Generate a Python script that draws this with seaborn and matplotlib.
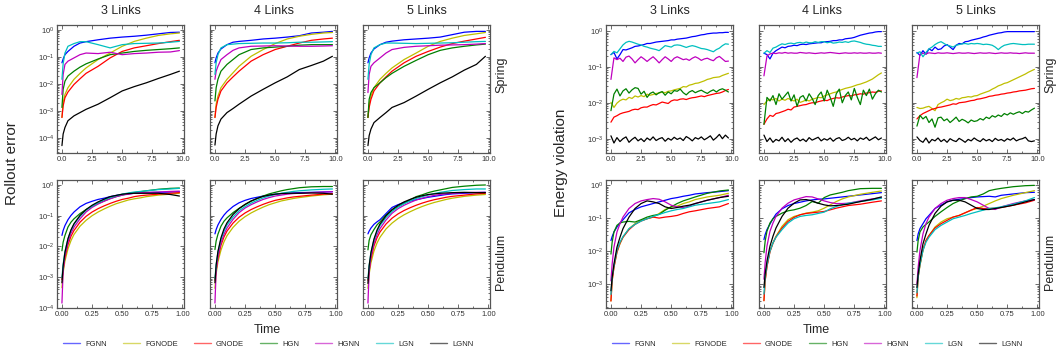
import numpy as np
import pandas as pd
import matplotlib
matplotlib.use("Agg")
import matplotlib.pyplot as plt
import seaborn as sns
from matplotlib.lines import Line2D
from matplotlib.ticker import MultipleLocator, LogLocator, NullFormatter

models = ["FGNN", "FGNODE", "GNODE", "HGN", "HGNN", "LGN", "LGNN"]
colors = ["b", "y", "r", "g", "m", "c", "k"]
links = [3, 4, 5]

# time grids
t_spring = [0, 0.1, 0.25, 0.5, 1, 1.5, 2, 3, 4, 5, 6, 7, 8, 9, 9.75]
t_spring_e = [0, 0.25, 0.5, 0.75, 1, 1.25, 1.5, 1.75, 2, 2.25, 2.5, 2.75, 3, 3.25, 3.5, 3.75,
              4, 4.25, 4.5, 4.75, 5, 5.25, 5.5, 5.75, 6, 6.25, 6.5, 6.75, 7, 7.25, 7.5, 7.75,
              8, 8.25, 8.5, 8.75, 9, 9.25, 9.5, 9.75]
t_pend = [0, 0.01, 0.025, 0.05, 0.075, 0.1, 0.15, 0.2, 0.25, 0.3, 0.35, 0.4, 0.45, 0.5,
          0.55, 0.6, 0.65, 0.7, 0.8, 0.9, 0.975]

# values are log10 of the plotted quantity
# ---- rollout error, spring
rs3 = {
    "FGNN": [-1.22, -1.08, -0.92, -0.80, -0.61, -0.49, -0.44, -0.37, -0.31, -0.27, -0.24, -0.20, -0.15, -0.10, -0.09],
    "FGNODE": [-3.24, -2.69, -2.39, -2.14, -1.83, -1.61, -1.41, -1.10, -0.86, -0.61, -0.43, -0.31, -0.21, -0.15, -0.12],
    "GNODE": [-3.24, -2.81, -2.51, -2.30, -2.02, -1.81, -1.61, -1.35, -1.04, -0.80, -0.67, -0.59, -0.51, -0.44, -0.39],
    "HGN": [-2.87, -2.20, -1.90, -1.71, -1.53, -1.38, -1.26, -1.08, -0.92, -0.86, -0.80, -0.76, -0.73, -0.70, -0.67],
    "HGNN": [-2.39, -1.65, -1.28, -1.16, -1.04, -0.92, -0.86, -0.88, -0.83, -0.92, -0.88, -0.86, -0.83, -0.82, -0.77],
    "LGN": [-1.83, -1.25, -0.86, -0.61, -0.51, -0.44, -0.44, -0.55, -0.67, -0.55, -0.51, -0.50, -0.49, -0.46, -0.43],
    "LGNN": [-4.28, -3.85, -3.61, -3.36, -3.18, -3.06, -2.94, -2.75, -2.51, -2.26, -2.10, -1.96, -1.80, -1.65, -1.53],
}
rs4 = {
    "FGNN": [-1.22, -1.04, -0.86, -0.71, -0.55, -0.46, -0.43, -0.39, -0.34, -0.31, -0.27, -0.22, -0.12, -0.09, -0.06],
    "FGNODE": [-3.24, -2.75, -2.45, -2.14, -1.83, -1.59, -1.35, -0.98, -0.73, -0.51, -0.34, -0.24, -0.17, -0.12, -0.10],
    "GNODE": [-3.24, -2.87, -2.57, -2.26, -1.96, -1.74, -1.53, -1.16, -0.92, -0.73, -0.61, -0.49, -0.39, -0.34, -0.31],
    "HGN": [-2.63, -2.14, -1.83, -1.53, -1.28, -1.10, -0.92, -0.73, -0.67, -0.64, -0.61, -0.57, -0.55, -0.55, -0.55],
    "HGNN": [-1.83, -1.53, -1.35, -1.10, -0.92, -0.76, -0.67, -0.61, -0.60, -0.59, -0.60, -0.61, -0.61, -0.60, -0.59],
    "LGN": [-1.65, -1.22, -0.92, -0.67, -0.55, -0.53, -0.51, -0.50, -0.49, -0.49, -0.48, -0.46, -0.46, -0.45, -0.44],
    "LGNN": [-4.26, -3.85, -3.55, -3.30, -3.06, -2.91, -2.75, -2.45, -2.20, -1.96, -1.74, -1.47, -1.32, -1.16, -0.98],
}
rs5 = {
    "FGNN": [-1.22, -1.04, -0.86, -0.71, -0.55, -0.46, -0.42, -0.37, -0.34, -0.31, -0.27, -0.18, -0.09, -0.06, -0.06],
    "FGNODE": [-3.24, -2.75, -2.45, -2.14, -1.83, -1.61, -1.41, -1.10, -0.86, -0.61, -0.43, -0.31, -0.21, -0.15, -0.10],
    "GNODE": [-3.24, -2.87, -2.57, -2.26, -1.96, -1.74, -1.53, -1.22, -0.98, -0.80, -0.64, -0.51, -0.42, -0.34, -0.28],
    "HGN": [-3.24, -2.57, -2.32, -2.14, -1.96, -1.77, -1.61, -1.35, -1.13, -0.92, -0.76, -0.67, -0.61, -0.56, -0.53],
    "HGNN": [-2.32, -1.65, -1.35, -1.22, -1.04, -0.86, -0.73, -0.65, -0.61, -0.59, -0.57, -0.56, -0.55, -0.53, -0.51],
    "LGN": [-1.83, -1.28, -0.92, -0.67, -0.55, -0.49, -0.49, -0.50, -0.51, -0.50, -0.49, -0.48, -0.46, -0.44, -0.43],
    "LGNN": [-4.28, -3.91, -3.67, -3.43, -3.24, -3.06, -2.87, -2.69, -2.45, -2.20, -1.96, -1.74, -1.49, -1.28, -0.98],
}

# ---- rollout error, pendulum
rp3 = {
    "FGNN": [-1.64, -1.48, -1.32, -1.13, -0.99, -0.88, -0.71, -0.60, -0.53, -0.47, -0.43, -0.38, -0.34, -0.31, -0.29, -0.27, -0.26, -0.25, -0.24, -0.23, -0.22],
    "FGNODE": [-3.34, -2.85, -2.47, -2.08, -1.81, -1.61, -1.34, -1.15, -1.00, -0.88, -0.78, -0.69, -0.61, -0.55, -0.49, -0.45, -0.42, -0.38, -0.33, -0.30, -0.27],
    "GNODE": [-3.07, -2.74, -2.36, -1.94, -1.67, -1.48, -1.21, -1.02, -0.88, -0.77, -0.68, -0.60, -0.53, -0.47, -0.43, -0.38, -0.35, -0.33, -0.30, -0.27, -0.25],
    "HGN": [-2.14, -1.86, -1.64, -1.37, -1.21, -1.10, -0.93, -0.80, -0.69, -0.60, -0.52, -0.44, -0.38, -0.33, -0.28, -0.25, -0.22, -0.19, -0.14, -0.11, -0.10],
    "HGNN": [-3.84, -2.79, -2.30, -1.86, -1.57, -1.37, -1.10, -0.88, -0.73, -0.62, -0.53, -0.45, -0.38, -0.33, -0.30, -0.27, -0.25, -0.24, -0.23, -0.21, -0.20],
    "LGN": [-3.01, -2.58, -2.16, -1.75, -1.48, -1.28, -1.02, -0.82, -0.69, -0.58, -0.48, -0.41, -0.35, -0.30, -0.26, -0.23, -0.21, -0.19, -0.15, -0.13, -0.11],
    "LGNN": [-3.18, -2.63, -2.19, -1.75, -1.46, -1.26, -0.99, -0.80, -0.66, -0.55, -0.46, -0.38, -0.34, -0.30, -0.28, -0.27, -0.27, -0.27, -0.27, -0.31, -0.36],
}
rp4 = {
    "FGNN": [-1.59, -1.45, -1.30, -1.12, -0.98, -0.87, -0.70, -0.58, -0.50, -0.44, -0.40, -0.36, -0.33, -0.30, -0.28, -0.27, -0.26, -0.25, -0.24, -0.23, -0.22],
    "FGNODE": [-3.36, -2.88, -2.50, -2.12, -1.85, -1.65, -1.38, -1.18, -1.03, -0.91, -0.81, -0.72, -0.64, -0.58, -0.52, -0.48, -0.44, -0.41, -0.36, -0.32, -0.30],
    "GNODE": [-3.10, -2.76, -2.38, -1.96, -1.69, -1.50, -1.24, -1.05, -0.91, -0.80, -0.71, -0.63, -0.56, -0.50, -0.46, -0.42, -0.39, -0.37, -0.33, -0.30, -0.28],
    "HGN": [-2.10, -1.82, -1.60, -1.34, -1.18, -1.07, -0.90, -0.76, -0.64, -0.53, -0.44, -0.36, -0.29, -0.24, -0.19, -0.15, -0.12, -0.09, -0.06, -0.05, -0.05],
    "HGNN": [-3.84, -2.80, -2.32, -1.88, -1.60, -1.40, -1.12, -0.90, -0.75, -0.64, -0.55, -0.47, -0.41, -0.36, -0.33, -0.30, -0.28, -0.27, -0.25, -0.23, -0.22],
    "LGN": [-3.05, -2.60, -2.18, -1.77, -1.50, -1.30, -1.04, -0.84, -0.70, -0.59, -0.50, -0.42, -0.36, -0.31, -0.27, -0.24, -0.21, -0.19, -0.16, -0.14, -0.13],
    "LGNN": [-3.18, -2.60, -2.16, -1.72, -1.43, -1.23, -0.96, -0.77, -0.63, -0.52, -0.44, -0.37, -0.33, -0.30, -0.28, -0.27, -0.27, -0.27, -0.26, -0.27, -0.30],
}
rp5 = {
    "FGNN": [-1.59, -1.50, -1.40, -1.28, -1.20, -1.13, -0.93, -0.73, -0.64, -0.57, -0.52, -0.48, -0.44, -0.40, -0.37, -0.34, -0.31, -0.29, -0.27, -0.25, -0.24],
    "FGNODE": [-3.36, -2.90, -2.53, -2.15, -1.89, -1.70, -1.43, -1.24, -1.09, -0.97, -0.87, -0.78, -0.70, -0.63, -0.57, -0.52, -0.47, -0.43, -0.37, -0.33, -0.31],
    "GNODE": [-3.10, -2.78, -2.40, -1.98, -1.72, -1.53, -1.27, -1.08, -0.94, -0.83, -0.74, -0.66, -0.59, -0.53, -0.48, -0.44, -0.40, -0.37, -0.33, -0.29, -0.27],
    "HGN": [-2.11, -1.80, -1.62, -1.45, -1.30, -1.20, -0.98, -0.82, -0.70, -0.60, -0.48, -0.38, -0.32, -0.25, -0.20, -0.16, -0.12, -0.08, -0.04, -0.01, 0.00],
    "HGNN": [-3.84, -2.82, -2.33, -1.90, -1.62, -1.42, -1.14, -0.92, -0.77, -0.66, -0.57, -0.49, -0.43, -0.38, -0.34, -0.31, -0.29, -0.27, -0.25, -0.24, -0.24],
    "LGN": [-3.05, -2.62, -2.20, -1.79, -1.52, -1.32, -1.06, -0.86, -0.72, -0.61, -0.52, -0.44, -0.38, -0.33, -0.28, -0.24, -0.21, -0.18, -0.15, -0.13, -0.13],
    "LGNN": [-3.20, -2.63, -2.20, -1.76, -1.47, -1.27, -1.00, -0.80, -0.66, -0.55, -0.47, -0.40, -0.35, -0.31, -0.29, -0.27, -0.26, -0.25, -0.24, -0.25, -0.25],
}

# ---- energy violation, spring
es3 = {
    "FGNN": [-0.66, -0.60, -0.78, -0.66, -0.52, -0.53, -0.50, -0.47, -0.43, -0.42, -0.40, -0.38, -0.35, -0.35, -0.33, -0.31, -0.30, -0.29, -0.28, -0.27,
             -0.25, -0.25, -0.23, -0.22, -0.21, -0.20, -0.18, -0.16, -0.15, -0.13, -0.11, -0.10, -0.08, -0.07, -0.06, -0.06, -0.05, -0.05, -0.04, -0.04],
    "FGNODE": [-1.99, -2.13, -2.01, -1.94, -1.90, -1.92, -1.85, -1.88, -1.81, -1.84, -1.80, -1.83, -1.76, -1.79, -1.77, -1.74, -1.73, -1.70, -1.72, -1.68,
               -1.67, -1.64, -1.62, -1.60, -1.55, -1.56, -1.51, -1.49, -1.46, -1.45, -1.42, -1.39, -1.35, -1.33, -1.30, -1.29, -1.28, -1.24, -1.21, -1.18],
    "GNODE": [-2.54, -2.40, -2.36, -2.31, -2.28, -2.26, -2.24, -2.20, -2.18, -2.19, -2.14, -2.12, -2.12, -2.08, -2.05, -2.06, -2.02, -1.98, -2.00, -2.02,
              -1.95, -1.92, -1.93, -1.90, -1.89, -1.91, -1.88, -1.86, -1.85, -1.83, -1.81, -1.83, -1.80, -1.78, -1.76, -1.74, -1.73, -1.70, -1.66, -1.63],
    "HGN": [-2.22, -1.76, -1.62, -1.81, -1.67, -1.61, -1.73, -1.64, -1.58, -1.60, -1.76, -1.68, -1.85, -1.74, -1.70, -1.78, -1.72, -1.69, -1.79, -1.70,
            -1.75, -1.66, -1.68, -1.62, -1.72, -1.78, -1.70, -1.66, -1.72, -1.68, -1.65, -1.70, -1.74, -1.68, -1.64, -1.70, -1.64, -1.61, -1.65, -1.70],
    "HGNN": [-1.35, -0.75, -0.80, -0.76, -0.85, -0.73, -0.70, -0.78, -0.89, -0.80, -0.72, -0.78, -0.85, -0.78, -0.72, -0.80, -0.89, -0.80, -0.72, -0.78,
             -0.85, -0.76, -0.72, -0.76, -0.80, -0.78, -0.82, -0.76, -0.72, -0.76, -0.82, -0.78, -0.76, -0.80, -0.83, -0.75, -0.71, -0.78, -0.85, -0.84],
    "LGN": [-0.66, -0.57, -0.61, -0.50, -0.39, -0.32, -0.29, -0.31, -0.34, -0.37, -0.39, -0.43, -0.45, -0.48, -0.50, -0.52, -0.55, -0.48, -0.41, -0.43,
            -0.45, -0.40, -0.39, -0.40, -0.43, -0.46, -0.43, -0.41, -0.43, -0.46, -0.49, -0.50, -0.52, -0.55, -0.58, -0.52, -0.48, -0.41, -0.36, -0.37],
    "LGNN": [-2.92, -3.12, -2.97, -3.08, -3.00, -2.95, -3.10, -3.02, -2.96, -3.06, -3.00, -3.08, -2.98, -3.04, -2.95, -3.05, -3.00, -2.97, -3.07, -2.99,
             -3.04, -2.96, -3.02, -2.98, -3.05, -2.94, -2.99, -3.06, -2.97, -3.01, -2.95, -3.03, -2.98, -2.92, -3.04, -2.97, -2.88, -3.00, -2.90, -2.98],
}
es4 = {
    "FGNN": [-0.62, -0.66, -0.78, -0.62, -0.55, -0.50, -0.45, -0.47, -0.43, -0.42, -0.40, -0.41, -0.38, -0.37, -0.38, -0.36, -0.35, -0.34, -0.33, -0.33,
             -0.30, -0.30, -0.29, -0.27, -0.27, -0.25, -0.25, -0.22, -0.21, -0.20, -0.18, -0.15, -0.12, -0.10, -0.08, -0.06, -0.05, -0.03, -0.02, -0.02],
    "FGNODE": [-2.05, -1.95, -1.90, -1.92, -1.88, -1.95, -1.90, -1.93, -1.88, -1.92, -1.95, -1.90, -1.99, -1.96, -1.92, -1.95, -1.90, -1.88, -1.85, -1.86,
               -1.81, -1.78, -1.75, -1.72, -1.70, -1.66, -1.63, -1.60, -1.58, -1.56, -1.53, -1.50, -1.48, -1.45, -1.42, -1.38, -1.34, -1.28, -1.22, -1.17],
    "GNODE": [-2.60, -2.45, -2.35, -2.38, -2.30, -2.28, -2.25, -2.22, -2.18, -2.20, -2.12, -2.10, -2.08, -2.06, -2.05, -2.02, -2.00, -2.00, -1.97, -1.95,
              -1.93, -1.94, -1.90, -1.88, -1.86, -1.87, -1.84, -1.82, -1.80, -1.81, -1.78, -1.77, -1.75, -1.76, -1.73, -1.72, -1.70, -1.71, -1.68, -1.67],
    "HGN": [-2.60, -1.85, -1.95, -1.80, -2.05, -1.75, -1.90, -1.80, -1.70, -1.95, -1.78, -2.10, -1.85, -1.80, -1.95, -1.75, -1.88, -2.05, -1.80, -1.70,
            -1.95, -1.65, -1.85, -2.10, -1.75, -1.62, -2.00, -1.80, -1.70, -1.92, -1.60, -1.85, -2.05, -1.65, -1.80, -1.62, -1.90, -1.75, -1.65, -1.70],
    "HGNN": [-1.25, -0.70, -0.64, -0.62, -0.63, -0.61, -0.62, -0.60, -0.62, -0.61, -0.62, -0.62, -0.60, -0.61, -0.62, -0.61, -0.62, -0.63, -0.62, -0.61,
             -0.62, -0.61, -0.60, -0.61, -0.62, -0.63, -0.62, -0.61, -0.62, -0.62, -0.61, -0.62, -0.61, -0.62, -0.62, -0.61, -0.62, -0.62, -0.61, -0.62],
    "LGN": [-0.62, -0.55, -0.60, -0.48, -0.45, -0.40, -0.36, -0.38, -0.35, -0.34, -0.36, -0.33, -0.32, -0.34, -0.31, -0.33, -0.33, -0.30, -0.32, -0.30,
            -0.30, -0.33, -0.31, -0.34, -0.33, -0.31, -0.32, -0.30, -0.32, -0.29, -0.28, -0.30, -0.32, -0.35, -0.37, -0.38, -0.40, -0.41, -0.43, -0.43],
    "LGNN": [-2.90, -3.08, -2.98, -3.10, -3.02, -3.06, -2.96, -3.08, -3.00, -3.10, -3.02, -2.98, -3.06, -3.01, -3.08, -2.97, -3.04, -3.00, -2.96, -3.06,
             -3.00, -3.04, -2.98, -3.07, -3.00, -2.97, -3.05, -3.02, -2.96, -3.03, -2.99, -3.06, -2.98, -3.02, -2.96, -3.05, -3.00, -2.95, -3.03, -2.98],
}
es5 = {
    "FGNN": [-0.60, -0.68, -0.55, -0.65, -0.50, -0.55, -0.45, -0.52, -0.50, -0.42, -0.38, -0.45, -0.52, -0.40, -0.35, -0.36, -0.30, -0.29, -0.26, -0.24,
             -0.22, -0.20, -0.17, -0.15, -0.12, -0.10, -0.08, -0.06, -0.05, -0.03, -0.02, -0.02, -0.02, -0.02, -0.02, -0.02, -0.02, -0.02, -0.02, -0.02],
    "FGNODE": [-2.13, -2.16, -2.15, -2.12, -2.10, -2.16, -2.22, -2.05, -2.00, -1.96, -1.90, -1.94, -1.92, -1.88, -1.90, -1.86, -1.85, -1.83, -1.84, -1.81,
               -1.80, -1.76, -1.73, -1.70, -1.67, -1.62, -1.58, -1.53, -1.50, -1.46, -1.44, -1.40, -1.36, -1.32, -1.28, -1.24, -1.20, -1.15, -1.11, -1.07],
    "GNODE": [-2.45, -2.36, -2.30, -2.26, -2.22, -2.18, -2.16, -2.13, -2.12, -2.10, -2.08, -2.06, -2.03, -2.04, -2.00, -1.99, -1.98, -1.96, -1.94, -1.93,
              -1.90, -1.89, -1.87, -1.85, -1.82, -1.81, -1.79, -1.78, -1.76, -1.75, -1.73, -1.72, -1.70, -1.69, -1.67, -1.66, -1.65, -1.63, -1.61, -1.60],
    "HGN": [-2.65, -2.35, -2.45, -2.38, -2.55, -2.45, -2.68, -2.42, -2.40, -2.50, -2.45, -2.55, -2.48, -2.40, -2.52, -2.46, -2.50, -2.56, -2.48, -2.52,
            -2.50, -2.44, -2.48, -2.40, -2.44, -2.36, -2.40, -2.34, -2.38, -2.30, -2.34, -2.28, -2.32, -2.28, -2.25, -2.30, -2.24, -2.26, -2.20, -2.15],
    "HGNN": [-1.30, -0.65, -0.62, -0.64, -0.61, -0.62, -0.63, -0.61, -0.62, -0.62, -0.61, -0.62, -0.63, -0.62, -0.61, -0.62, -0.62, -0.61, -0.62, -0.63,
             -0.62, -0.61, -0.62, -0.62, -0.61, -0.62, -0.63, -0.62, -0.61, -0.62, -0.62, -0.61, -0.62, -0.62, -0.63, -0.62, -0.61, -0.62, -0.62, -0.62],
    "LGN": [-0.62, -0.58, -0.72, -0.60, -0.50, -0.45, -0.38, -0.33, -0.30, -0.35, -0.40, -0.42, -0.45, -0.40, -0.38, -0.36, -0.35, -0.37, -0.35, -0.36,
            -0.35, -0.36, -0.38, -0.37, -0.38, -0.40, -0.45, -0.52, -0.45, -0.40, -0.38, -0.36, -0.35, -0.36, -0.37, -0.38, -0.38, -0.37, -0.37, -0.37],
    "LGNN": [-2.95, -3.05, -3.10, -2.98, -3.12, -3.02, -3.06, -2.98, -3.08, -3.02, -3.10, -3.00, -3.05, -3.08, -2.99, -3.04, -3.10, -3.02, -3.06, -2.98,
             -3.04, -3.08, -3.00, -3.06, -3.02, -3.08, -2.99, -3.05, -3.02, -3.07, -3.00, -3.04, -2.98, -3.06, -3.02, -3.00, -2.96, -3.06, -3.08, -3.06],
}

# ---- energy violation, pendulum
ep3 = {
    "FGNN": [-1.68, -1.56, -1.42, -1.27, -1.15, -1.05, -0.84, -0.74, -0.66, -0.61, -0.56, -0.51, -0.46, -0.41, -0.38, -0.34, -0.31, -0.27, -0.23, -0.20, -0.17],
    "FGNODE": [-3.51, -2.90, -2.49, -2.03, -1.78, -1.58, -1.32, -1.17, -1.07, -1.02, -0.97, -0.86, -0.74, -0.66, -0.64, -0.56, -0.51, -0.44, -0.36, -0.31, -0.25],
    "GNODE": [-3.51, -2.90, -2.49, -2.03, -1.76, -1.58, -1.35, -1.19, -1.09, -1.02, -0.97, -1.00, -0.97, -0.95, -0.92, -0.86, -0.81, -0.78, -0.71, -0.66, -0.56],
    "HGN": [-2.09, -1.73, -1.42, -1.22, -1.15, -1.12, -1.10, -1.12, -1.05, -0.97, -0.92, -0.89, -0.76, -0.66, -0.56, -0.48, -0.42, -0.36, -0.25, -0.18, -0.15],
    "HGNN": [-2.90, -2.39, -1.88, -1.42, -1.17, -0.97, -0.71, -0.56, -0.48, -0.44, -0.41, -0.43, -0.51, -0.61, -0.66, -0.68, -0.64, -0.56, -0.46, -0.38, -0.31],
    "LGN": [-3.31, -2.80, -2.44, -1.98, -1.73, -1.56, -1.32, -1.19, -1.09, -1.02, -0.95, -0.89, -0.83, -0.78, -0.74, -0.71, -0.66, -0.61, -0.56, -0.51, -0.44],
    "LGNN": [-3.20, -2.80, -2.39, -1.88, -1.58, -1.32, -0.97, -0.71, -0.56, -0.48, -0.51, -0.56, -0.66, -0.71, -0.68, -0.64, -0.61, -0.56, -0.46, -0.38, -0.34],
}
ep4 = {
    "FGNN": [-1.65, -1.50, -1.35, -1.18, -1.02, -0.88, -0.72, -0.62, -0.56, -0.52, -0.48, -0.45, -0.43, -0.42, -0.40, -0.38, -0.36, -0.34, -0.30, -0.26, -0.23],
    "FGNODE": [-3.50, -2.90, -2.45, -2.00, -1.75, -1.55, -1.25, -1.05, -0.95, -0.90, -0.85, -0.82, -0.78, -0.70, -0.60, -0.50, -0.42, -0.36, -0.28, -0.22, -0.18],
    "GNODE": [-3.50, -2.90, -2.48, -2.02, -1.76, -1.57, -1.30, -1.10, -0.98, -0.90, -0.86, -0.84, -0.82, -0.80, -0.75, -0.70, -0.66, -0.62, -0.58, -0.52, -0.48],
    "HGN": [-2.05, -1.70, -1.40, -1.15, -1.02, -0.95, -0.85, -0.78, -0.75, -0.70, -0.62, -0.50, -0.55, -0.38, -0.30, -0.26, -0.22, -0.17, -0.11, -0.10, -0.10],
    "HGNN": [-2.85, -2.35, -1.85, -1.40, -1.15, -0.95, -0.70, -0.55, -0.45, -0.40, -0.35, -0.36, -0.42, -0.48, -0.53, -0.56, -0.56, -0.55, -0.48, -0.42, -0.38],
    "LGN": [-3.30, -2.80, -2.42, -2.00, -1.75, -1.58, -1.35, -1.15, -1.02, -0.95, -0.92, -0.90, -0.86, -0.82, -0.72, -0.65, -0.60, -0.55, -0.50, -0.45, -0.40],
    "LGNN": [-3.10, -2.70, -2.30, -1.85, -1.55, -1.30, -0.95, -0.70, -0.55, -0.45, -0.44, -0.48, -0.55, -0.60, -0.63, -0.62, -0.60, -0.58, -0.50, -0.43, -0.36],
}
ep5 = {
    "FGNN": [-1.68, -1.48, -1.32, -1.17, -1.02, -0.92, -0.71, -0.61, -0.51, -0.46, -0.43, -0.41, -0.38, -0.36, -0.35, -0.34, -0.36, -0.31, -0.27, -0.23, -0.22],
    "FGNODE": [-3.41, -2.80, -2.44, -1.98, -1.68, -1.53, -1.27, -1.12, -1.02, -0.97, -0.92, -0.84, -0.76, -0.71, -0.64, -0.56, -0.48, -0.41, -0.31, -0.23, -0.17],
    "GNODE": [-3.36, -2.78, -2.41, -1.96, -1.68, -1.53, -1.30, -1.17, -1.07, -0.97, -0.92, -0.84, -0.76, -0.68, -0.71, -0.71, -0.70, -0.68, -0.61, -0.54, -0.46],
    "HGN": [-2.03, -1.68, -1.42, -1.27, -1.19, -1.12, -0.95, -0.81, -0.68, -0.56, -0.48, -0.41, -0.36, -0.34, -0.27, -0.17, -0.13, -0.10, -0.05, -0.02, -0.01],
    "HGNN": [-3.00, -2.49, -1.98, -1.48, -1.17, -0.97, -0.71, -0.56, -0.46, -0.41, -0.38, -0.38, -0.44, -0.51, -0.61, -0.71, -0.74, -0.66, -0.56, -0.48, -0.44],
    "LGN": [-3.26, -2.78, -2.41, -1.98, -1.73, -1.58, -1.35, -1.22, -1.12, -1.02, -0.97, -0.92, -0.86, -0.81, -0.76, -0.71, -0.69, -0.66, -0.58, -0.48, -0.38],
    "LGNN": [-3.10, -2.70, -2.29, -1.78, -1.48, -1.22, -0.86, -0.64, -0.51, -0.46, -0.46, -0.51, -0.61, -0.71, -0.74, -0.74, -0.71, -0.68, -0.61, -0.51, -0.44],
}

panels = {
    ("Rollout error", "Spring"): ([rs3, rs4, rs5], t_spring),
    ("Rollout error", "Pendulum"): ([rp3, rp4, rp5], t_pend),
    ("Energy violation", "Spring"): ([es3, es4, es5], t_spring_e),
    ("Energy violation", "Pendulum"): ([ep3, ep4, ep5], t_pend),
}
ylims = {
    ("Rollout error", "Spring"): (2.8e-5, 1.5),
    ("Rollout error", "Pendulum"): (1.0e-4, 1.45),
    ("Energy violation", "Spring"): (4.0e-4, 1.46),
    ("Energy violation", "Pendulum"): (1.9e-4, 1.42),
}

rows = []
for (metric, system), (sets, tgrid) in panels.items():
    for n, d in zip(links, sets):
        for m in models:
            for t, v in zip(tgrid, d[m]):
                rows.append((metric, system, n, m, t, 10 ** v))
df = pd.DataFrame(rows, columns=["metric", "system", "links", "model", "time", "value"])

sns.set_style("ticks")
plt.rcParams["font.family"] = ["Liberation Sans", "DejaVu Sans"]

W, H = 1060, 356
fig = plt.figure(figsize=(W / 100, H / 100), dpi=100)

group_x = {"Rollout error": [57, 210, 363], "Energy violation": [606, 759, 912]}
row_y = {"Spring": 25, "Pendulum": 180}
aw, ah = 127, 128
spine_c = "#555555"

for metric, xs in group_x.items():
    for system, y0 in row_y.items():
        for j, n in enumerate(links):
            ax = fig.add_axes([xs[j] / W, 1 - (y0 + ah) / H, aw / W, ah / H])
            sub = df[(df.metric == metric) & (df.system == system) & (df.links == n)]
            sns.lineplot(data=sub, x="time", y="value", hue="model", hue_order=models,
                         palette=colors, ax=ax, legend=False, linewidth=0.9,
                         estimator=None, sort=False)
            ax.set_yscale("log")
            ax.set_ylim(*ylims[(metric, system)])
            if system == "Spring":
                ax.set_xlim(-0.41, 10.13)
                ax.xaxis.set_major_locator(MultipleLocator(2.5))
                ax.xaxis.set_minor_locator(MultipleLocator(1.25))
            else:
                ax.set_xlim(-0.041, 1.013)
                ax.xaxis.set_major_locator(MultipleLocator(0.25))
                ax.xaxis.set_minor_locator(MultipleLocator(0.125))
            ax.yaxis.set_major_locator(LogLocator(base=10, numticks=12))
            ax.yaxis.set_minor_locator(LogLocator(base=10, subs=np.arange(2, 10) * 0.1, numticks=12))
            ax.yaxis.set_minor_formatter(NullFormatter())
            ax.tick_params(which="both", direction="in", top=True, right=True,
                           labelsize=5.5, color=spine_c, labelcolor="#333333", width=0.6, pad=2)
            ax.tick_params(which="major", length=3)
            ax.tick_params(which="minor", length=1.5)
            if j > 0:
                ax.tick_params(labelleft=False)
            for s in ax.spines.values():
                s.set_color(spine_c)
                s.set_linewidth(0.9)
            ax.set_xlabel("")
            ax.set_ylabel("")
            if system == "Spring":
                fig.text((xs[j] + aw / 2) / W, 1 - 11.5 / H, f"{n} Links",
                         ha="center", va="center", fontsize=9)

    x_right = xs[2] + aw + 11
    fig.text(x_right / W, 1 - 75 / H, "Spring", rotation=90, ha="center", va="center", fontsize=9)
    fig.text(x_right / W, 1 - 262 / H, "Pendulum", rotation=90, ha="center", va="center", fontsize=9)
    fig.text((xs[0] - 45) / W, 1 - 163 / H, metric, rotation=90, ha="center", va="center", fontsize=11)
    fig.text((xs[0] + (xs[2] + aw - xs[0]) / 2 - 6) / W, 1 - 330 / H, "Time",
             ha="center", va="center", fontsize=9)

    handles = [Line2D([], [], color=c, lw=1.0, alpha=0.6) for c in colors]
    fig.legend(handles, models, loc="center left", bbox_to_anchor=((xs[0] + 6) / W, 1 - 344 / H),
               ncol=7, frameon=False, fontsize=5.5, handlelength=2.2, handletextpad=0.7,
               columnspacing=2.1, borderpad=0, borderaxespad=0)

fig.savefig("out.png", dpi=100)
